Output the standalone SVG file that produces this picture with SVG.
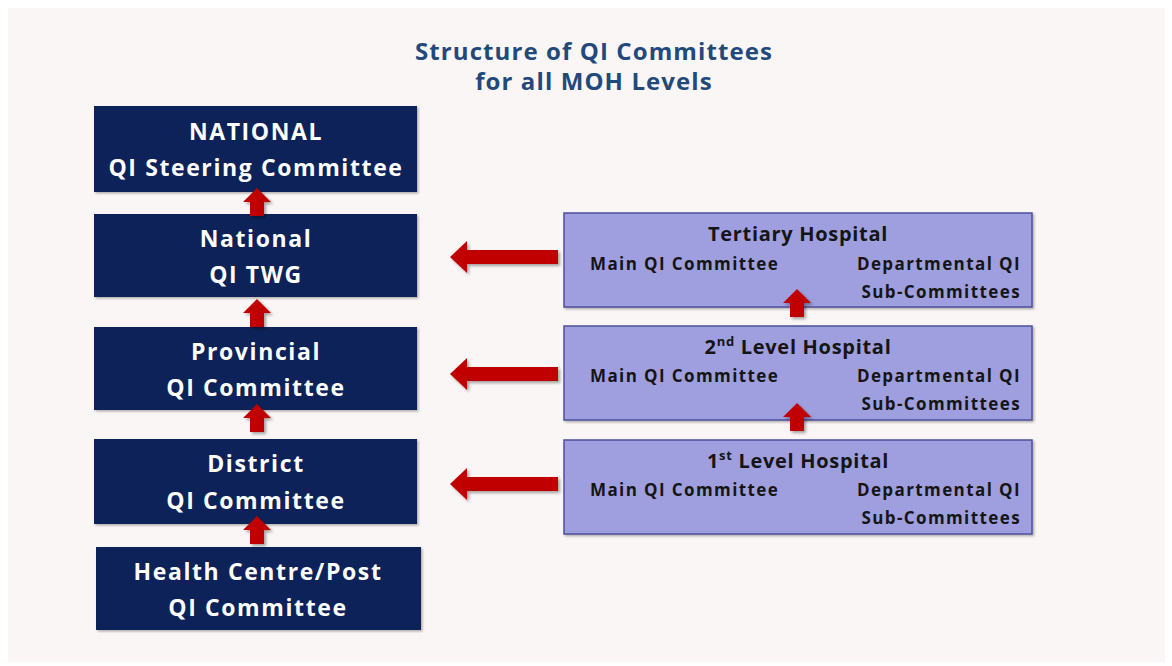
<svg xmlns="http://www.w3.org/2000/svg" width="1172" height="666" viewBox="0 0 1172 666">
  <defs>
    <filter id="shadow" x="-30%" y="-30%" width="160%" height="160%">
      <feDropShadow dx="2" dy="2" stdDeviation="1.5" flood-color="#000" flood-opacity="0.35"/>
    </filter>
    <filter id="boxShadow" x="-5%" y="-5%" width="110%" height="115%">
      <feDropShadow dx="1.5" dy="1.5" stdDeviation="1" flood-color="#000" flood-opacity="0.3"/>
    </filter>
    <!-- upward block arrow, tip at origin -->
    <path id="upArrow" d="M0,0 L14,14 L7,14 L7,28 L-7,28 L-7,14 L-14,14 Z"/>
    <!-- leftward block arrow, tip at origin -->
    <path id="leftArrow" d="M0,0 L17,-16 L17,-7 L108,-7 L108,7 L17,7 L17,16 Z"/>
  </defs>
  <style>
    .title { font-family: "Open Sans", Lato, sans-serif; font-weight: 700; font-size: 24px; fill: #23497c; text-anchor: middle; letter-spacing: 1.1px; }
    .lvl { fill: #0b2059; filter: url(#boxShadow); }
    .lvlText { font-family: "Open Sans", Lato, sans-serif; font-weight: 700; font-size: 23px; fill: #ffffff; text-anchor: middle; letter-spacing: 1.6px; }
    .hosp { fill: #9f9fdf; stroke: #50509a; stroke-width: 1.5; filter: url(#boxShadow); }
    .hospTitle { font-family: "Open Sans", Lato, sans-serif; font-weight: 700; font-size: 20px; fill: #151515; text-anchor: middle; letter-spacing: 0.7px; }
    .hospText { font-family: "Open Sans", Lato, sans-serif; font-weight: 700; font-size: 17px; fill: #151515; letter-spacing: 1.4px; }
    .arrow { fill: #c00000; filter: url(#shadow); }
  </style>

  <!-- page -->
  <rect x="0" y="0" width="1172" height="666" fill="#ffffff"/>
  <rect x="8" y="8" width="1157" height="654" fill="#faf6f5"/>

  <text class="title" x="594" y="60">Structure of QI Committees</text>
  <text class="title" x="594" y="90">for all MOH Levels</text>

  <!-- government levels -->
  <g id="national-steering">
    <rect class="lvl" x="94" y="106" width="323" height="86"/>
    <text class="lvlText" x="256" y="140">NATIONAL</text>
    <text class="lvlText" x="256" y="176">QI Steering Committee</text>
  </g>
  <g id="national-twg">
    <rect class="lvl" x="94" y="214" width="323" height="83"/>
    <text class="lvlText" x="256" y="247">National</text>
    <text class="lvlText" x="256" y="283">QI TWG</text>
  </g>
  <g id="provincial">
    <rect class="lvl" x="94" y="327" width="323" height="83"/>
    <text class="lvlText" x="256" y="360">Provincial</text>
    <text class="lvlText" x="256" y="396">QI Committee</text>
  </g>
  <g id="district">
    <rect class="lvl" x="94" y="439" width="323" height="85"/>
    <text class="lvlText" x="256" y="472">District</text>
    <text class="lvlText" x="256" y="509">QI Committee</text>
  </g>
  <g id="health-centre">
    <rect class="lvl" x="96" y="547" width="325" height="83"/>
    <text class="lvlText" x="258" y="580">Health Centre/Post</text>
    <text class="lvlText" x="258" y="616">QI Committee</text>
  </g>

  <!-- hospitals -->
  <g id="tertiary-hospital">
    <rect class="hosp" x="564" y="213" width="468" height="94"/>
    <text class="hospTitle" x="798" y="241">Tertiary Hospital</text>
    <text class="hospText" x="590" y="270">Main QI Committee</text>
    <text class="hospText" x="1021" y="270" text-anchor="end">Departmental QI</text>
    <text class="hospText" x="1021" y="298" text-anchor="end">Sub-Committees</text>
  </g>
  <g id="second-level-hospital">
    <rect class="hosp" x="564" y="326" width="468" height="94"/>
    <text class="hospTitle" x="798" y="354">2<tspan font-size="13" dy="-8">nd</tspan><tspan dy="8"> Level Hospital</tspan></text>
    <text class="hospText" x="590" y="382">Main QI Committee</text>
    <text class="hospText" x="1021" y="382" text-anchor="end">Departmental QI</text>
    <text class="hospText" x="1021" y="410" text-anchor="end">Sub-Committees</text>
  </g>
  <g id="first-level-hospital">
    <rect class="hosp" x="564" y="440" width="468" height="94"/>
    <text class="hospTitle" x="798" y="468">1<tspan font-size="13" dy="-8">st</tspan><tspan dy="8"> Level Hospital</tspan></text>
    <text class="hospText" x="590" y="496">Main QI Committee</text>
    <text class="hospText" x="1021" y="496" text-anchor="end">Departmental QI</text>
    <text class="hospText" x="1021" y="524" text-anchor="end">Sub-Committees</text>
  </g>

  <!-- connectors, drawn over the boxes they point into -->
  <g id="connectors">
    <use href="#upArrow" class="arrow" x="257" y="188"/>
    <use href="#upArrow" class="arrow" x="257" y="299"/>
    <use href="#upArrow" class="arrow" x="257" y="404"/>
    <use href="#upArrow" class="arrow" x="257" y="516"/>
    <use href="#upArrow" class="arrow" x="797" y="289"/>
    <use href="#upArrow" class="arrow" x="797" y="403"/>
    <use href="#leftArrow" class="arrow" x="450" y="257"/>
    <use href="#leftArrow" class="arrow" x="450" y="374"/>
    <use href="#leftArrow" class="arrow" x="450" y="484"/>
  </g>
</svg>
